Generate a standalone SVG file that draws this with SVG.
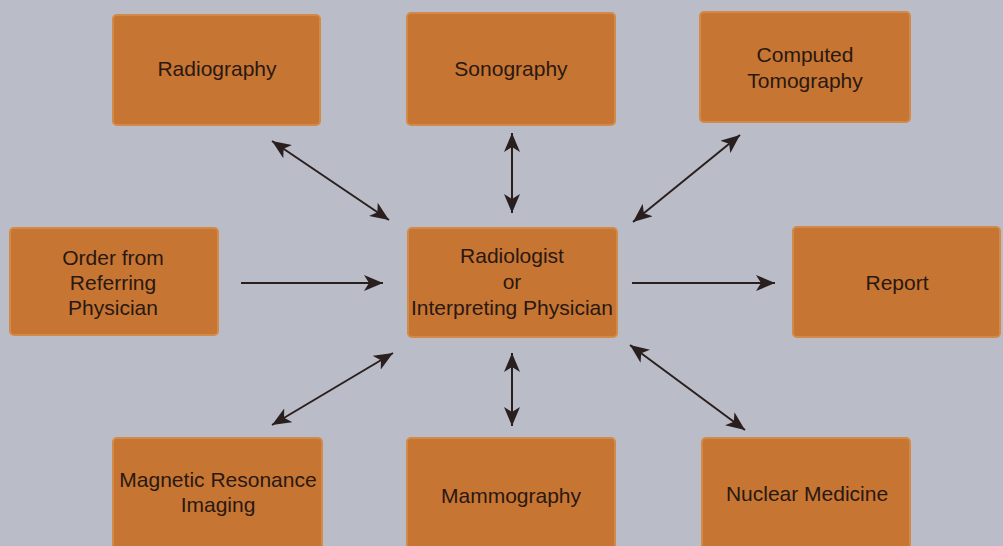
<svg xmlns="http://www.w3.org/2000/svg" width="1003" height="546" viewBox="0 0 1003 546">
<defs>
<marker id="ah" markerWidth="20" markerHeight="16" refX="19" refY="8" orient="auto-start-reverse" markerUnits="userSpaceOnUse">
<path d="M0,0 L19,8 L0,16 L5,8 Z" fill="#2a1f1f"/>
</marker>
</defs>
<style>
.box{fill:#c67532;stroke:#d28a48;stroke-width:2}
.t{font-family:"Liberation Sans",Arial,sans-serif;font-size:21px;fill:#2a1812;text-anchor:middle}
.c{stroke:#2a1f1f;stroke-width:2;fill:none}
</style>
<rect width="1003" height="546" fill="#babdc7"/>
<g id="radiography"><rect class="box" x="113" y="15" width="207" height="110" rx="4"/><text class="t" x="217" y="76">Radiography</text></g>
<g id="sonography"><rect class="box" x="407" y="13" width="208" height="112" rx="4"/><text class="t" x="511" y="76">Sonography</text></g>
<g id="ct"><rect class="box" x="700" y="12" width="210" height="110" rx="4"/><text class="t" x="805" y="62">Computed</text><text class="t" x="805" y="88">Tomography</text></g>
<g id="order"><rect class="box" x="10" y="228" width="208" height="107" rx="4"/><text class="t" x="113" y="265">Order from</text><text class="t" x="113" y="290">Referring</text><text class="t" x="113" y="315">Physician</text></g>
<g id="radiologist"><rect class="box" x="408" y="228" width="209" height="109" rx="4"/><text class="t" x="512" y="263">Radiologist</text><text class="t" x="512" y="289">or</text><text class="t" x="512" y="315">Interpreting Physician</text></g>
<g id="report"><rect class="box" x="793" y="227" width="207" height="110" rx="4"/><text class="t" x="897" y="290">Report</text></g>
<g id="mri"><rect class="box" x="113" y="438" width="209" height="112" rx="4"/><text class="t" x="218" y="487">Magnetic Resonance</text><text class="t" x="218" y="512">Imaging</text></g>
<g id="mammography"><rect class="box" x="407" y="438" width="208" height="112" rx="4"/><text class="t" x="511" y="503">Mammography</text></g>
<g id="nuclear"><rect class="box" x="702" y="438" width="208" height="112" rx="4"/><text class="t" x="807" y="501">Nuclear Medicine</text></g>
<g id="connectors">
<line class="c" x1="272" y1="141" x2="389" y2="220" marker-start="url(#ah)" marker-end="url(#ah)"/>
<line class="c" x1="512" y1="133" x2="512" y2="213" marker-start="url(#ah)" marker-end="url(#ah)"/>
<line class="c" x1="740" y1="135" x2="633" y2="222" marker-start="url(#ah)" marker-end="url(#ah)"/>
<line class="c" x1="241" y1="283" x2="383" y2="283" marker-end="url(#ah)"/>
<line class="c" x1="632" y1="283" x2="775" y2="283" marker-end="url(#ah)"/>
<line class="c" x1="272" y1="425" x2="393" y2="353" marker-start="url(#ah)" marker-end="url(#ah)"/>
<line class="c" x1="512" y1="353" x2="512" y2="426" marker-start="url(#ah)" marker-end="url(#ah)"/>
<line class="c" x1="630" y1="345" x2="745" y2="430" marker-start="url(#ah)" marker-end="url(#ah)"/>
</g>
</svg>
